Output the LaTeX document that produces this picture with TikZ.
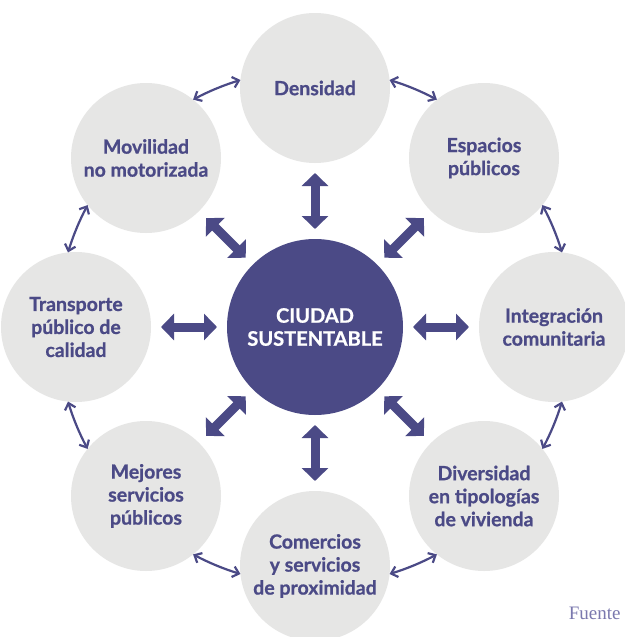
\documentclass[tikz,border=0pt]{standalone}
\usepackage{fontspec}
\setmainfont{Lato}[BoldFeatures={FakeBold=0.8}]
\newfontfamily\fuentefont{Liberation Serif}
\usetikzlibrary{arrows.meta,calc}
\definecolor{ink}{HTML}{4B4A86}
\definecolor{circfill}{HTML}{E6E6E5}
\definecolor{fuentecol}{HTML}{7A78AE}
\begin{document}
\begin{tikzpicture}[x=1pt,y=1pt,
  outer/.style={circle, fill=circfill, minimum size=150pt, inner sep=0pt, text=ink, align=center,
    font=\bfseries\fontsize{19.5}{23}\selectfont},
  core/.style={circle, fill=ink, minimum size=176pt, inner sep=0pt, text=white, align=center,
    font=\bfseries\fontsize{20}{23}\selectfont},
  blockarrow/.style={draw=ink, line width=9pt,
    {Triangle[length=13pt,width=26pt]}-{Triangle[length=13pt,width=26pt]}},
  ringarrow/.style={draw=ink, line width=2.2pt,
    {Straight Barb[length=6pt,width=11pt]}-{Straight Barb[length=6pt,width=11pt]}}
]
\useasboundingbox (0,0) rectangle (624,-637);
\fill[white] (0,0) rectangle (624,-637);
\coordinate (c) at (315,-327);

\node[core] (core) at (c) {CIUDAD\\SUSTENTABLE};

\node[outer] (n1) at ($(c)+(90:239)$) {Densidad};
\node[outer] (n2) at ($(c)+(45:239)$) {Espacios\\públicos};
\node[outer] (n3) at ($(c)+(0:239)$) {Integración\\comunitaria};
\node[outer] (n4) at ($(c)+(-45:239)$) {Diversidad\\en tipologías\\de vivienda};
\node[outer] (n5) at ($(c)+(-90:239)$) {Comercios\\y servicios\\de proximidad};
\node[outer] (n6) at ($(c)+(-135:239)$) {Mejores\\servicios\\públicos};
\node[outer] (n7) at ($(c)+(180:239)$) {Transporte\\público de\\calidad};
\node[outer] (n8) at ($(c)+(135:239)$) {Movilidad\\no motorizada};

% block double arrows between the centre and each outer circle
\foreach \n in {n1,n2,n3,n4,n5,n6,n7,n8}{
  \draw[blockarrow] ($(c)!98pt!(\n)$) -- ($(c)!154pt!(\n)$);
}

% curved double arrows between neighbouring circles
\foreach \a in {0,45,90,135,180,225,270,315}{
  \draw[ringarrow] ($(c)+(\a+16.8:258)$) arc[start angle=\a+16.8, end angle=\a+28.2, radius=258];
}

\node[anchor=base east, text=fuentecol, font=\fuentefont\fontsize{19}{22}\selectfont] (src) at (624,-619) {Fuente};
\end{tikzpicture}
\end{document}
